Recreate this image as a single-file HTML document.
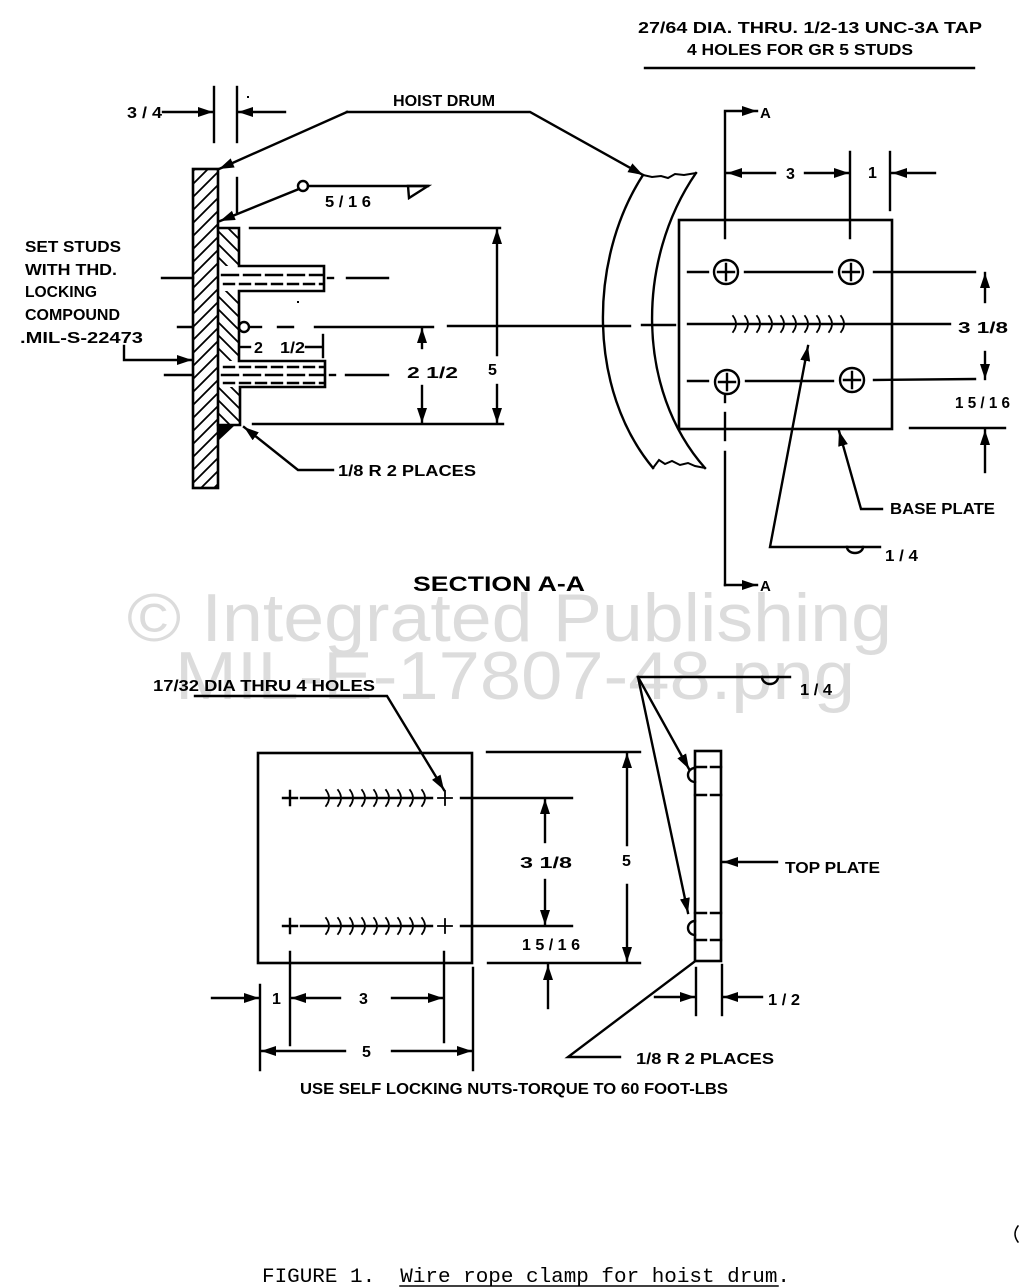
<!DOCTYPE html>
<html><head><meta charset="utf-8"><style>
html,body{margin:0;padding:0;background:#fff;}
svg{display:block;}
text{font-family:"Liberation Sans",Arial,sans-serif;font-weight:bold;}
</style></head><body>
<svg width="1021" height="1288" viewBox="0 0 1021 1288" xmlns="http://www.w3.org/2000/svg">
<defs>
<marker id="a" markerUnits="userSpaceOnUse" markerWidth="16" markerHeight="12" refX="15" refY="5" orient="auto">
<path d="M0,0 L15,5 L0,10 z" fill="#000"/>
</marker>
<pattern id="h1" patternUnits="userSpaceOnUse" width="13" height="13">
<path d="M-2,15 L15,-2 M-2,2 L2,-2 M11,15 L15,11" stroke="#000" stroke-width="1.8"/>
</pattern>
<pattern id="h2" patternUnits="userSpaceOnUse" width="13" height="13">
<path d="M-2,-2 L15,15 M11,-2 L15,2 M-2,11 L2,15" stroke="#000" stroke-width="1.8"/>
</pattern>
</defs>
<rect width="1021" height="1288" fill="#fff"/>

<!-- watermark -->
<text x="127" y="641" font-size="68" style="font-weight:normal;fill:#dcdcdc" textLength="765" lengthAdjust="spacingAndGlyphs">© Integrated Publishing</text>
<text x="175" y="699" font-size="68" style="font-weight:normal;fill:#dcdcdc" textLength="680" lengthAdjust="spacingAndGlyphs">MIL-E-17807-48.png</text>

<g stroke="#000" stroke-width="2.4" fill="none" stroke-linecap="square">

<!-- ===== TOP LEFT SECTION ===== -->
<line x1="214" y1="87" x2="214" y2="142"/>
<line x1="237" y1="87" x2="237" y2="142"/>
<line x1="163" y1="112" x2="213" y2="112" marker-end="url(#a)"/>
<line x1="285" y1="112" x2="238" y2="112" marker-end="url(#a)"/>
<line x1="237" y1="178" x2="237" y2="212"/>
<rect x="247" y="96" width="2" height="2" fill="#000" stroke="none"/>

<rect x="193" y="169" width="25" height="319" fill="url(#h1)" stroke-width="2.6"/>

<rect x="218" y="228" width="21" height="38" fill="url(#h2)" stroke="none"/>
<rect x="218" y="291" width="21" height="70" fill="url(#h2)" stroke="none"/>
<rect x="218" y="387" width="22" height="38" fill="url(#h2)" stroke="none"/>
<path d="M218,228 L239,228 L239,266 L324,266 L324,291 L239,291 L239,361 L325,361 L325,387 L240,387 L240,425 L218,425" stroke-width="2.6"/>
<line x1="222" y1="275" x2="322" y2="275" stroke-dasharray="16 6"/>
<line x1="224" y1="284" x2="322" y2="284" stroke-dasharray="10 6"/>
<line x1="224" y1="367" x2="323" y2="367" stroke-dasharray="10 6"/>
<line x1="222" y1="375" x2="323" y2="375" stroke-dasharray="16 6"/>
<line x1="224" y1="383" x2="323" y2="383" stroke-dasharray="10 6"/>
<polygon points="218,426 234,426 218,441" fill="#000" stroke="none"/>

<line x1="162" y1="278" x2="193" y2="278"/>
<line x1="328" y1="278" x2="333" y2="278"/>
<line x1="347" y1="278" x2="388" y2="278"/>
<line x1="178" y1="327" x2="193" y2="327"/>
<circle cx="244" cy="327" r="5"/>
<line x1="251" y1="327" x2="261" y2="327"/>
<line x1="278" y1="327" x2="293" y2="327"/>
<line x1="315" y1="327" x2="433" y2="327"/>
<line x1="448" y1="326" x2="630" y2="326"/>
<line x1="642" y1="325" x2="675" y2="325"/>
<line x1="165" y1="375" x2="193" y2="375"/>
<line x1="330" y1="375" x2="335" y2="375"/>
<line x1="346" y1="375" x2="388" y2="375"/>
<rect x="297" y="301" width="2" height="2" fill="#000" stroke="none"/>

<line x1="240" y1="347" x2="250" y2="347"/>
<line x1="306" y1="347" x2="322" y2="347"/>
<line x1="323" y1="335" x2="323" y2="357"/>

<line x1="250" y1="228" x2="500" y2="228"/>
<line x1="253" y1="424" x2="503" y2="424"/>
<line x1="422" y1="348" x2="422" y2="328" marker-end="url(#a)"/>
<line x1="422" y1="386" x2="422" y2="423" marker-end="url(#a)"/>
<line x1="497" y1="355" x2="497" y2="229" marker-end="url(#a)"/>
<line x1="497" y1="385" x2="497" y2="423" marker-end="url(#a)"/>

<path d="M347,112 L530,112 L643,175" marker-end="url(#a)"/>
<line x1="347" y1="112" x2="219" y2="169" marker-end="url(#a)"/>

<circle cx="303" cy="186" r="5"/>
<line x1="308" y1="186" x2="428" y2="186"/>
<path d="M408,186 L428,186 L409,198 Z"/>
<line x1="299" y1="189" x2="220" y2="221" marker-end="url(#a)"/>

<path d="M333,470 L298,470 L244,427" marker-end="url(#a)"/>

<path d="M124,346 L124,360 L192,360" marker-end="url(#a)"/>

<!-- ===== TOP RIGHT ===== -->
<path d="M643,175 C588,260 588,390 653,468"/>
<path d="M696,173 C636,260 636,390 705,468"/>
<path d="M643,175 L652,177 L661,176 L668,178 L675,174 L684,175 L696,173" stroke-width="2"/>
<path d="M653,468 L659,460 L665,464 L672,461 L680,465 L688,463 L695,466 L705,468" stroke-width="2"/>

<rect x="679" y="220" width="213" height="209" stroke-width="2.6"/>
<g>
<circle cx="726" cy="272" r="12"/><path d="M718,272 L734,272 M726,264 L726,280"/>
<circle cx="851" cy="272" r="12"/><path d="M843,272 L859,272 M851,264 L851,280"/>
<circle cx="727" cy="382" r="12"/><path d="M719,382 L735,382 M727,374 L727,390"/>
<circle cx="852" cy="380" r="12"/><path d="M844,380 L860,380 M852,372 L852,388"/>
</g>
<line x1="688" y1="272" x2="708" y2="272"/>
<line x1="745" y1="272" x2="832" y2="272"/>
<line x1="874" y1="272" x2="975" y2="272"/>
<line x1="688" y1="381" x2="708" y2="381"/>
<line x1="746" y1="381" x2="833" y2="381"/>
<line x1="874" y1="380" x2="975" y2="379"/>
<line x1="688" y1="324" x2="950" y2="324"/>
<path stroke-width="1.8" d="M733,316 Q739,324 733,332 M745,316 Q751,324 745,332 M757,316 Q763,324 757,332 M769,316 Q775,324 769,332 M781,316 Q787,324 781,332 M793,316 Q799,324 793,332 M805,316 Q811,324 805,332 M817,316 Q823,324 817,332 M829,316 Q835,324 829,332 M841,316 Q847,324 841,332"/>

<line x1="725" y1="113" x2="725" y2="238"/>
<line x1="725" y1="111" x2="757" y2="111" marker-end="url(#a)"/>
<line x1="725" y1="396" x2="725" y2="402"/>
<line x1="725" y1="413" x2="725" y2="440"/>
<line x1="725" y1="452" x2="725" y2="585"/>
<line x1="725" y1="585" x2="757" y2="585" marker-end="url(#a)"/>

<line x1="850" y1="152" x2="850" y2="238"/>
<line x1="890" y1="152" x2="890" y2="210"/>
<line x1="775" y1="173" x2="727" y2="173" marker-end="url(#a)"/>
<line x1="805" y1="173" x2="849" y2="173" marker-end="url(#a)"/>
<line x1="935" y1="173" x2="892" y2="173" marker-end="url(#a)"/>

<line x1="985" y1="302" x2="985" y2="273" marker-end="url(#a)"/>
<line x1="985" y1="352" x2="985" y2="379" marker-end="url(#a)"/>
<line x1="910" y1="428" x2="1005" y2="428"/>
<line x1="985" y1="472" x2="985" y2="430" marker-end="url(#a)"/>

<path d="M882,509 L861,509 L839,431" marker-end="url(#a)"/>
<path d="M880,547 L770,547 L808,346" marker-end="url(#a)"/>
<path d="M847,547 A8,6 0 0 0 863,547"/>

<line x1="645" y1="68" x2="974" y2="68"/>

<!-- ===== BOTTOM ===== -->
<path d="M195,696 L387,696 L444,790" marker-end="url(#a)"/>
<rect x="258" y="753" width="214" height="210" stroke-width="2.6"/>
<path d="M283,798 L297,798 M290,791 L290,805"/>
<line x1="301" y1="798" x2="432" y2="798"/>
<path d="M438,798 L452,798 M445,791 L445,805" stroke-width="1.8"/>
<line x1="461" y1="798" x2="572" y2="798"/>
<path d="M283,926 L297,926 M290,919 L290,933"/>
<line x1="301" y1="926" x2="432" y2="926"/>
<path d="M438,926 L452,926 M445,919 L445,933" stroke-width="1.8"/>
<line x1="461" y1="926" x2="572" y2="926"/>
<path stroke-width="1.8" d="M326,790 Q332,798 326,806 M338,790 Q344,798 338,806 M350,790 Q356,798 350,806 M362,790 Q368,798 362,806 M374,790 Q380,798 374,806 M386,790 Q392,798 386,806 M398,790 Q404,798 398,806 M410,790 Q416,798 410,806 M422,790 Q428,798 422,806"/>
<path stroke-width="1.8" d="M326,918 Q332,926 326,934 M338,918 Q344,926 338,934 M350,918 Q356,926 350,934 M362,918 Q368,926 362,934 M374,918 Q380,926 374,934 M386,918 Q392,926 386,934 M398,918 Q404,926 398,934 M410,918 Q416,926 410,934 M422,918 Q428,926 422,934"/>

<line x1="545" y1="842" x2="545" y2="799" marker-end="url(#a)"/>
<line x1="545" y1="880" x2="545" y2="925" marker-end="url(#a)"/>
<line x1="488" y1="963" x2="640" y2="963"/>
<line x1="548" y1="1008" x2="548" y2="965" marker-end="url(#a)"/>
<line x1="487" y1="752" x2="640" y2="752"/>
<line x1="627" y1="845" x2="627" y2="753" marker-end="url(#a)"/>
<line x1="627" y1="885" x2="627" y2="962" marker-end="url(#a)"/>

<line x1="260" y1="985" x2="260" y2="1070"/>
<line x1="290" y1="952" x2="290" y2="1045"/>
<line x1="444" y1="952" x2="444" y2="1042"/>
<line x1="473" y1="968" x2="473" y2="1070"/>
<line x1="212" y1="998" x2="259" y2="998" marker-end="url(#a)"/>
<line x1="340" y1="998" x2="291" y2="998" marker-end="url(#a)"/>
<line x1="392" y1="998" x2="443" y2="998" marker-end="url(#a)"/>
<line x1="345" y1="1051" x2="261" y2="1051" marker-end="url(#a)"/>
<line x1="392" y1="1051" x2="472" y2="1051" marker-end="url(#a)"/>

<rect x="695" y="751" width="26" height="210" stroke-width="2.6"/>
<path d="M695,767 L706,767 M711,767 L721,767 M695,795 L706,795 M711,795 L721,795 M695,913 L706,913 M711,913 L721,913 M695,940 L706,940 M711,940 L721,940"/>
<path d="M695,768 A7,7 0 0 0 695,782"/>
<path d="M695,921 A7,7 0 0 0 695,935"/>
<line x1="790" y1="677" x2="638" y2="677"/>
<path d="M762,677 A8,7 0 0 0 778,677"/>
<line x1="638" y1="677" x2="689" y2="769" marker-end="url(#a)"/>
<line x1="638" y1="677" x2="688" y2="913" marker-end="url(#a)"/>
<line x1="777" y1="862" x2="723" y2="862" marker-end="url(#a)"/>
<line x1="696" y1="968" x2="696" y2="1015"/>
<line x1="722" y1="965" x2="722" y2="1015"/>
<line x1="655" y1="997" x2="695" y2="997" marker-end="url(#a)"/>
<line x1="762" y1="997" x2="723" y2="997" marker-end="url(#a)"/>
<path d="M694,962 L568,1057 L620,1057"/>

<line x1="400" y1="1286" x2="778" y2="1286" stroke-width="1.5"/>
<path d="M1018,1226 Q1012,1234 1018,1242" stroke-width="1.5"/>
</g>

<!-- ===== TEXT ===== -->
<g font-size="16" fill="#000">
<text x="638" y="33" textLength="344" lengthAdjust="spacingAndGlyphs">27/64 DIA. THRU. 1/2-13 UNC-3A TAP</text>
<text x="687" y="55" textLength="226" lengthAdjust="spacingAndGlyphs">4 HOLES FOR GR 5 STUDS</text>
<text x="393" y="106" textLength="102" lengthAdjust="spacingAndGlyphs">HOIST DRUM</text>
<text x="127" y="118" textLength="35" lengthAdjust="spacingAndGlyphs">3 / 4</text>
<text x="325" y="207" textLength="46" lengthAdjust="spacingAndGlyphs">5 / 1 6</text>
<text x="25" y="252" textLength="96" lengthAdjust="spacingAndGlyphs">SET STUDS</text>
<text x="25" y="275" textLength="92" lengthAdjust="spacingAndGlyphs">WITH THD.</text>
<text x="25" y="297" textLength="72" lengthAdjust="spacingAndGlyphs">LOCKING</text>
<text x="25" y="320" textLength="95" lengthAdjust="spacingAndGlyphs">COMPOUND</text>
<text x="20" y="343" textLength="123" lengthAdjust="spacingAndGlyphs">.MIL-S-22473</text>
<text x="254" y="353">2</text>
<text x="280" y="353" textLength="25" lengthAdjust="spacingAndGlyphs">1/2</text>
<text x="407" y="378" textLength="51" lengthAdjust="spacingAndGlyphs">2  1/2</text>
<text x="488" y="375">5</text>
<text x="338" y="476" textLength="138" lengthAdjust="spacingAndGlyphs">1/8 R 2 PLACES</text>
<text x="760" y="118" font-size="15">A</text>
<text x="786" y="179">3</text>
<text x="868" y="178">1</text>
<text x="958" y="333" textLength="50" lengthAdjust="spacingAndGlyphs">3  1/8</text>
<text x="955" y="408" textLength="55" lengthAdjust="spacingAndGlyphs">1 5 / 1 6</text>
<text x="890" y="514" textLength="105" lengthAdjust="spacingAndGlyphs">BASE PLATE</text>
<text x="885" y="561" textLength="33" lengthAdjust="spacingAndGlyphs">1 / 4</text>
<text x="760" y="591" font-size="15">A</text>
<text x="413" y="591" font-size="21" textLength="172" lengthAdjust="spacingAndGlyphs">SECTION  A-A</text>
<text x="153" y="691" textLength="222" lengthAdjust="spacingAndGlyphs">17/32 DIA THRU 4 HOLES</text>
<text x="800" y="695" textLength="32" lengthAdjust="spacingAndGlyphs">1 / 4</text>
<text x="520" y="868" textLength="52" lengthAdjust="spacingAndGlyphs">3  1/8</text>
<text x="622" y="866">5</text>
<text x="785" y="873" textLength="95" lengthAdjust="spacingAndGlyphs">TOP PLATE</text>
<text x="522" y="950" textLength="58" lengthAdjust="spacingAndGlyphs">1 5 / 1 6</text>
<text x="272" y="1004">1</text>
<text x="359" y="1004">3</text>
<text x="768" y="1005" textLength="32" lengthAdjust="spacingAndGlyphs">1 / 2</text>
<text x="362" y="1057">5</text>
<text x="636" y="1064" textLength="138" lengthAdjust="spacingAndGlyphs">1/8 R 2 PLACES</text>
<text x="300" y="1094" textLength="428" lengthAdjust="spacingAndGlyphs">USE SELF LOCKING NUTS-TORQUE TO 60 FOOT-LBS</text>
</g>
<text x="262" y="1282" font-size="20" fill="#000" style="font-family:'Liberation Mono',monospace;font-weight:normal" textLength="528" lengthAdjust="spacingAndGlyphs" xml:space="preserve">FIGURE 1.  Wire rope clamp for hoist drum.</text>
</svg>
</body></html>
